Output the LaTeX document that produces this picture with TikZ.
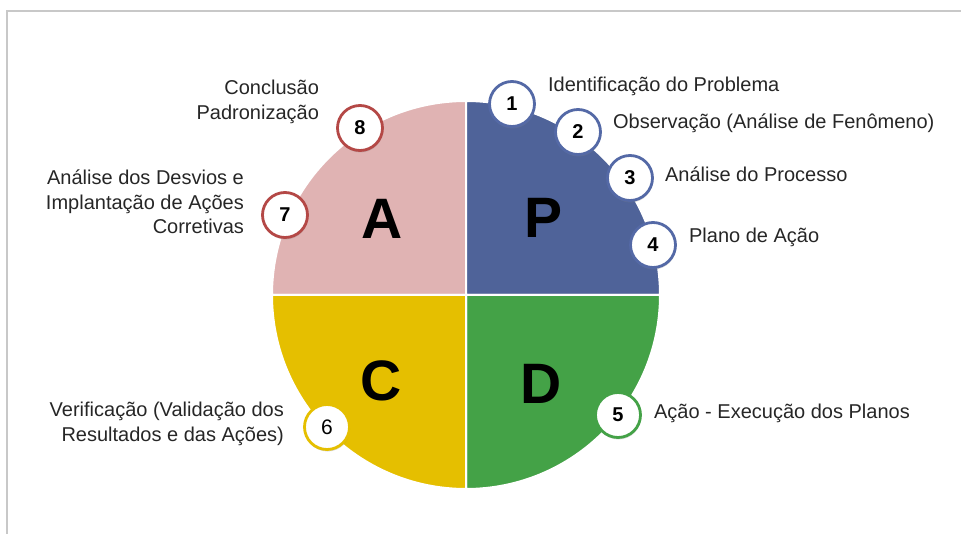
\documentclass[tikz,border=0pt]{standalone}
\usepackage{fontspec}
\setmainfont{Liberation Sans}
\usetikzlibrary{positioning, shadows}

\definecolor{pdcaPink}{HTML}{E0B3B3}
\definecolor{pdcaBlue}{HTML}{4F6399}
\definecolor{pdcaGreen}{HTML}{44A247}
\definecolor{pdcaYellow}{HTML}{E5BF00}
\definecolor{ringBlue}{HTML}{5469A6}
\definecolor{ringRed}{HTML}{B44846}
\definecolor{ringGreen}{HTML}{44A247}
\definecolor{ringYellow}{HTML}{E5BF00}
\definecolor{labelGray}{HTML}{262626}
\definecolor{frameGray}{HTML}{C8C8C8}

\begin{document}
\begin{tikzpicture}[x=1pt, y=-1pt,
    quarter/.style={draw=white, line width=2pt},
    badge/.style={circle, draw, line width=2.8pt, fill=white, minimum size=45pt, inner sep=0pt,
        font=\fontsize{20}{20}\selectfont\bfseries,
        drop shadow={shadow xshift=0.5pt, shadow yshift=-2pt, opacity=0.3}},
    steplabel/.style={inner sep=0pt, text=labelGray, font=\fontsize{20}{24.5}\selectfont},
    bigletter/.style={inner sep=0pt, font=\fontsize{57}{57}\selectfont\bfseries}]

  \useasboundingbox (0,0) rectangle (961,534);
  \draw[frameGray, line width=2pt] (6.5,534) -- (6.5,11.5) -- (961,11.5);

  % the four quarters
  \coordinate (c) at (466,295);
  \fill[pdcaPink, quarter]   (c) -- ++(-194,0) arc[start angle=180, end angle=90,  radius=194pt] -- cycle;
  \fill[pdcaBlue, quarter]   (c) -- ++(0,-194) arc[start angle=90,  end angle=0,   radius=194pt] -- cycle;
  \fill[pdcaGreen, quarter]  (c) -- ++(194,0)  arc[start angle=0,   end angle=-90, radius=194pt] -- cycle;
  \fill[pdcaYellow, quarter] (c) -- ++(0,194)  arc[start angle=270, end angle=180, radius=194pt] -- cycle;

  % letters
  \foreach \l/\x/\y in {P/544/218, A/382/219, C/381/381, D/541/384}
    \node[bigletter] (\l) at (\x,\y) {\l};

  % steps
  \node[badge, draw=ringBlue] (b1) at (512,104) {1};
  \node[badge, draw=ringBlue] (b2) at (578,132) {2};
  \node[badge, draw=ringBlue] (b3) at (630,178) {3};
  \node[badge, draw=ringBlue] (b4) at (653,245) {4};
  \node[badge, draw=ringGreen] (b5) at (618,415) {5};
  \node[badge, draw=ringYellow, font=\fontsize{21}{21}\selectfont] (b6) at (327,427) {6};
  \node[badge, draw=ringRed] (b7) at (285,215) {7};
  \node[badge, draw=ringRed] (b8) at (360,128) {8};

  \node[steplabel, right=12pt of b1, yshift=18pt] (l1) {Identificação do Problema};
  \node[steplabel, right=11pt of b2, yshift=9pt] (l2) {Observação (Análise de Fenômeno)};
  \node[steplabel, right=11pt of b3, yshift=4pt] (l3) {Análise do Processo};
  \node[steplabel, right=12pt of b4, yshift=8pt] (l4) {Plano de Ação};
  \node[steplabel, right=12pt of b5, yshift=2pt] (l5) {Ação - Execução dos Planos};
  \node[steplabel, align=right, left=19pt of b6, yshift=3pt] (l6) {Verificação (Validação dos\\Resultados e das Ações)};
  \node[steplabel, align=right, left=17pt of b7, yshift=13pt] (l7) {Análise dos Desvios e\\Implantação de Ações\\Corretivas};
  \node[steplabel, align=right, left=17pt of b8, yshift=26pt] (l8) {Conclusão\\Padronização};

\end{tikzpicture}
\end{document}
